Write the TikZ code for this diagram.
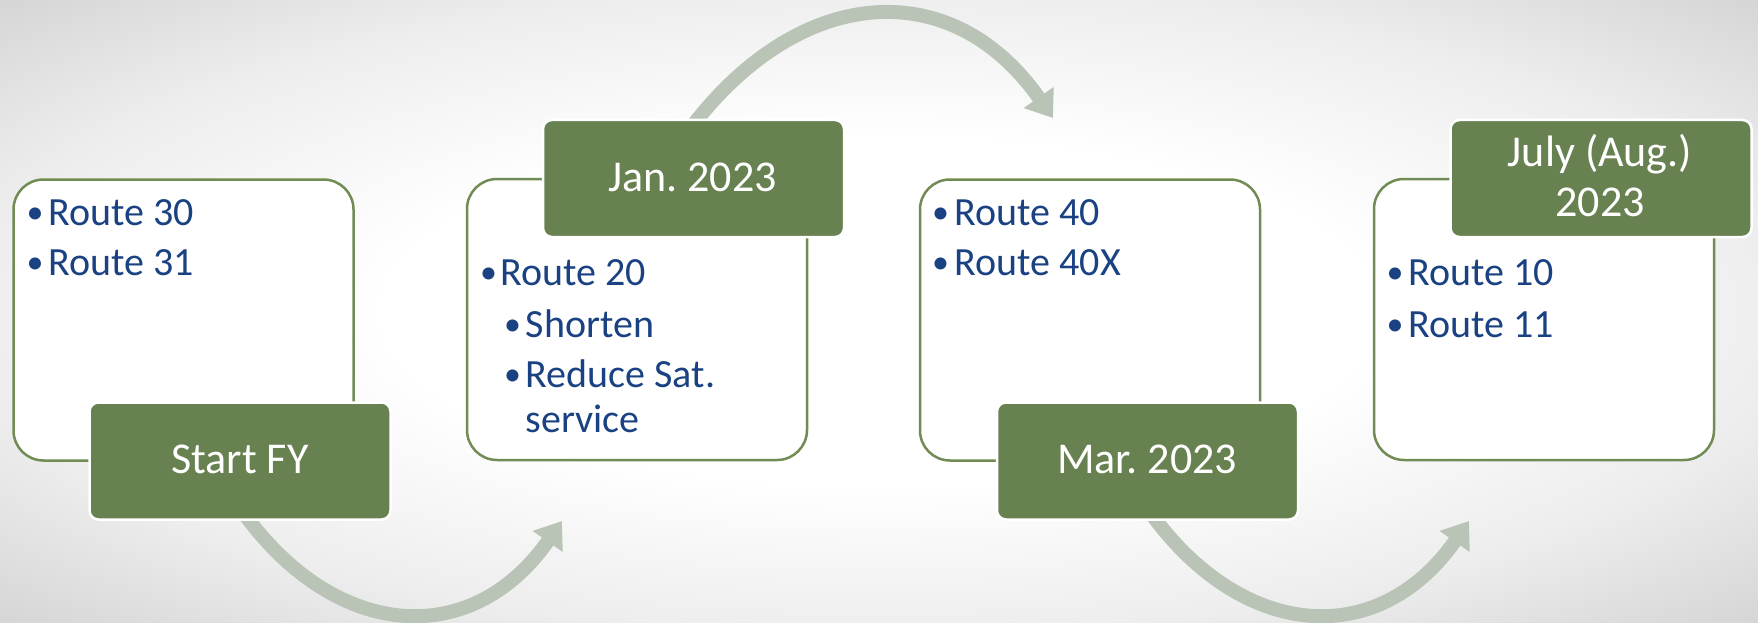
\documentclass[tikz,border=0pt]{standalone}
\usepackage{fontspec}
\setmainfont{Carlito}
\usetikzlibrary{arrows.meta}
\frenchspacing
\definecolor{bgreen}{RGB}{104,129,80}
\definecolor{bline}{RGB}{112,140,84}
\definecolor{tblue}{RGB}{26,66,130}
\definecolor{arrowc}{RGB}{185,196,182}
\pgfdeclareradialshading{bgshade}{\pgfpoint{0bp}{0bp}}{color(0bp)=(white); color(14bp)=(white); color(26bp)=(black!7); color(36bp)=(black!17); color(50bp)=(black!19)}
\begin{document}
\begin{tikzpicture}[x=1pt,y=-1pt,
  card/.style={draw=bline, line width=2.5pt, fill=white, rounded corners=30pt,
    minimum width=340pt, minimum height=281pt, inner sep=0pt},
  label/.style={draw=white, line width=2.5pt, fill=bgreen, rounded corners=9pt,
    minimum width=301pt, minimum height=117pt, inner sep=0pt},
  labtext/.style={anchor=base, inner sep=0pt, text=white, font=\fontsize{44}{49}\selectfont\frenchspacing},
  item/.style={anchor=base west, inner sep=0pt, text=tblue, font=\fontsize{40}{45}\selectfont\frenchspacing},
  bul/.style={anchor=base, inner sep=0pt, text=tblue, font=\fontsize{34}{40}\selectfont},
  flow/.style={draw=arrowc, line width=14pt, -{Triangle[length=25pt,width=35pt]}}
]
\useasboundingbox (0,0) rectangle (1758,623);
\shade[shading=bgshade] (0,0) rectangle (1758,623);

% connector coordinates
\coordinate (a1s) at (240,508);
\coordinate (a1e) at (562,521);
\coordinate (a2s) at (690,129);
\coordinate (a2e) at (1053,118);
\coordinate (a3s) at (1147,508);
\coordinate (a3e) at (1469,521);

\draw[flow] (a1s) .. controls (332,639.4) and (470,652.4) .. (a1e);
\draw[flow] (a2s) .. controls (797.6,-13.9) and (950.4,-28.4) .. (a2e);
\draw[flow] (a3s) .. controls (1239,639.4) and (1377,652.4) .. (a3e);

% cards
\node[card] (b1) at (183.5,320) {};
\node[card] (b2) at (637,319.5) {};
\node[card] (b3) at (1090,320) {};
\node[card] (b4) at (1544,319.5) {};

% green labels
\node[label] (g1) at (240,461) {};
\node[label] (g2) at (693.5,178.5) {};
\node[label] (g3) at (1147.5,461) {};
\node[label] (g4) at (1601,178.5) {};

\node[labtext] (t1) at (240,473.3) {Start FY};
\node[labtext] (t2) at (692.5,191.7) {Jan. 2023};
\node[labtext] (t3) at (1147,473.3) {Mar. 2023};
\node[labtext] (t4a) at (1600,166.7) {July (Aug.)};
\node[labtext] (t4b) at (1600,216.7) {2023};

% box 1
\node[bul] (d11) at (35,223) {•};
\node[item] (i11) at (48.5,225) {Route 30};
\node[bul] (d12) at (35,273) {•};
\node[item] (i12) at (48.5,275) {Route 31};

% box 2
\node[bul] (d21) at (488.5,283) {•};
\node[item] (i21) at (500.5,285) {Route 20};
\node[bul] (d22) at (512.5,335) {•};
\node[item] (i22) at (525.5,337) {Shorten};
\node[bul] (d23) at (512.5,385) {•};
\node[item] (i23) at (525.5,387) {Reduce Sat.};
\node[item] (i24) at (525.5,432) {service};

% box 3
\node[bul] (d31) at (940.5,223) {•};
\node[item] (i31) at (954.5,225) {Route 40};
\node[bul] (d32) at (940.5,273) {•};
\node[item] (i32) at (954.5,275) {Route 40X};

% box 4
\node[bul] (d41) at (1395,283) {•};
\node[item] (i41) at (1408,285) {Route 10};
\node[bul] (d42) at (1395,335) {•};
\node[item] (i42) at (1408,337) {Route 11};
\end{tikzpicture}
\end{document}
